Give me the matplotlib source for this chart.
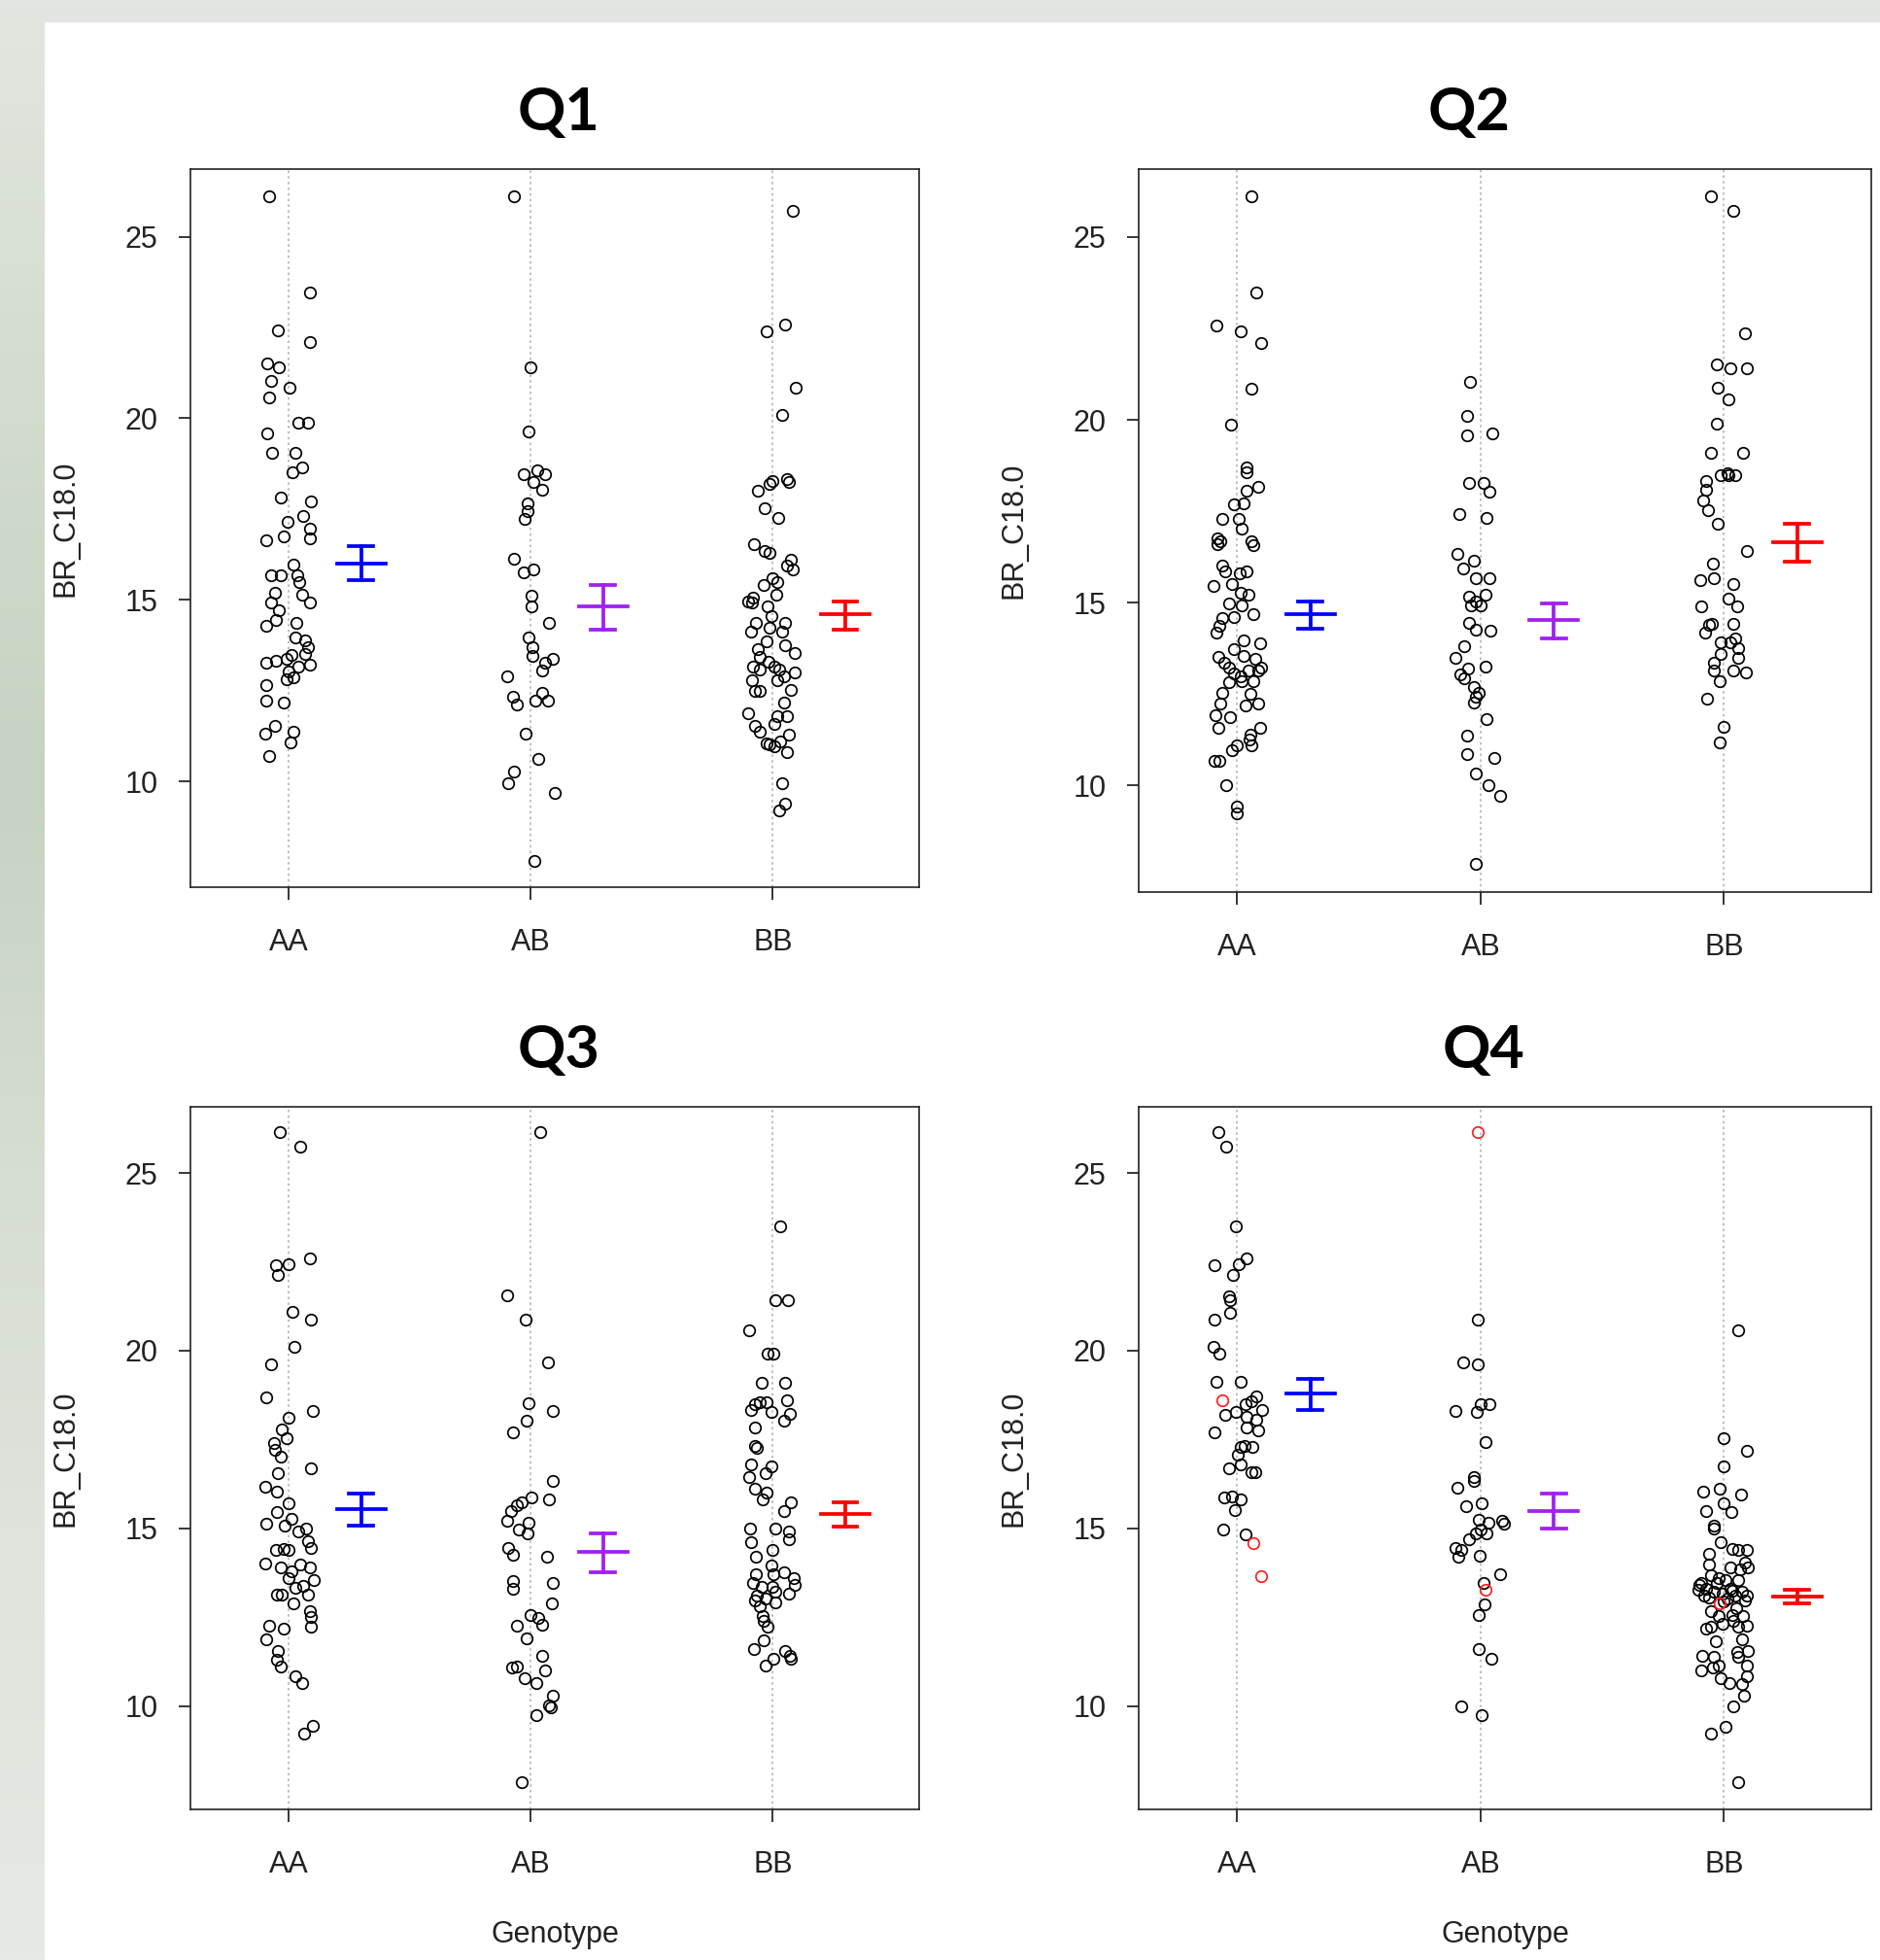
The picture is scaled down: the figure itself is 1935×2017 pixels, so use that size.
import matplotlib
matplotlib.use("Agg")
import matplotlib.pyplot as plt
import numpy as np
from matplotlib.colors import LinearSegmentedColormap

plt.rcParams['font.family'] = ['Liberation Sans', 'DejaVu Sans']

GROUPS = ["AA", "AB", "BB"]
PANELS = ["Q1", "Q2", "Q3", "Q4"]
BAR_COLORS = ["#0000FF", "#A020F0", "#FF0000"]
Y_TICKS = [10, 15, 20, 25]

# ---------------- Q1 ----------------
Q1_AA_Y = [26.11, 23.47, 22.42, 22.11, 21.52, 21.40, 21.03, 20.84, 20.56, 19.89, 19.89, 19.57,
           19.06, 19.06, 18.66, 18.50, 17.83, 17.70, 17.15, 17.31, 16.96, 16.74, 16.69, 16.63,
           15.98, 15.69, 15.69, 15.69, 15.48, 15.20, 15.14, 14.93, 14.93, 14.71, 14.44, 14.28,
           14.38, 13.97, 13.88, 13.70, 13.51, 13.27, 13.33, 13.39, 13.49, 13.21, 13.15, 13.02,
           12.87, 12.81, 12.65, 12.22, 12.18, 11.54, 11.33, 11.38, 11.07, 10.71]
Q1_AA_DX = [-0.08, 0.087, -0.043, 0.087, -0.087, -0.04, -0.073, 0.004, -0.08, 0.04, 0.08, -0.087,
            -0.067, 0.027, 0.057, 0.017, -0.03, 0.093, -0.004, 0.06, 0.087, -0.02, 0.087, -0.09,
            0.02, -0.073, -0.033, 0.037, 0.043, -0.057, 0.057, -0.07, 0.09, -0.04, -0.053, -0.09,
            0.033, 0.027, 0.07, 0.08, 0.067, -0.093, -0.053, -0.007, 0.013, 0.087, 0.04, 0.0,
            0.02, -0.007, -0.093, -0.093, -0.02, -0.056, -0.097, 0.02, 0.01, -0.08]
Q1_AB_Y = [26.11, 21.40, 19.63, 18.46, 18.56, 18.46, 18.25, 18.04, 17.66, 17.43, 17.23, 16.14,
           15.77, 15.83, 15.11, 14.81, 14.38, 13.97, 13.70, 13.45, 13.27, 13.37, 13.05, 12.90,
           12.34, 12.12, 12.22, 12.44, 12.22, 11.32, 10.62, 10.27, 9.94, 9.69, 7.82]
Q1_AB_DX = [-0.067, 0.0, -0.007, -0.027, 0.027, 0.06, 0.013, 0.047, -0.013, -0.013, -0.024, -0.067,
            -0.027, 0.013, 0.003, 0.003, 0.077, -0.007, 0.007, 0.007, 0.06, 0.093, 0.047, -0.096,
            -0.073, -0.057, 0.02, 0.047, 0.073, -0.02, 0.033, -0.067, -0.091, 0.1, 0.016]
Q1_BB_Y = [25.70, 22.57, 22.38, 20.84, 20.08, 18.01, 18.19, 18.28, 18.32, 18.25, 17.52, 17.25,
           16.53, 16.35, 16.28, 16.10, 15.95, 15.83, 15.61, 15.48, 15.42, 15.15, 14.95, 15.05,
           14.93, 14.83, 14.56, 14.38, 14.38, 14.13, 14.22, 14.13, 13.85, 13.76, 13.64, 13.55,
           13.42, 13.29, 13.15, 13.08, 13.15, 13.08, 13.00, 12.80, 12.80, 12.90, 12.49, 12.49,
           12.53, 12.16, 11.88, 11.81, 11.79, 11.54, 11.58, 11.36, 11.30, 11.05, 11.01, 10.97,
           11.11, 10.80, 9.94, 9.39, 9.20]
Q1_BB_DX = [0.084, 0.053, -0.024, 0.097, 0.04, -0.06, -0.013, 0.0, 0.06, 0.067, -0.033, 0.023,
            -0.077, -0.033, -0.013, 0.077, 0.06, 0.084, 0.0, 0.02, -0.037, 0.017, -0.1, -0.08,
            -0.087, -0.02, -0.007, 0.053, -0.069, -0.091, -0.013, 0.04, -0.027, 0.053, -0.06, 0.093,
            -0.053, -0.016, -0.08, -0.053, 0.007, 0.027, 0.091, -0.087, 0.02, 0.047, -0.073, -0.053,
            0.077, 0.047, -0.1, 0.02, 0.06, -0.073, 0.007, -0.053, 0.069, -0.027, -0.013, 0.007,
            0.033, 0.06, 0.04, 0.053, 0.027]

# ---------------- Q2 ----------------
Q2_AA_Y = [26.12, 23.48, 22.57, 22.41, 22.11, 20.86, 19.88, 18.69, 18.56, 18.16, 18.06, 17.71,
           17.69, 17.29, 17.29, 17.02, 16.75, 16.69, 16.60, 16.69, 16.58, 16.02, 15.87, 15.81,
           15.87, 15.46, 15.52, 15.27, 15.21, 14.97, 14.93, 14.62, 14.68, 14.59, 14.37, 14.18,
           13.97, 13.89, 13.72, 13.52, 13.36, 13.24, 13.55, 13.47, 13.24, 13.14, 13.08, 12.99,
           13.14, 12.83, 12.86, 12.86, 12.55, 12.51, 12.24, 12.20, 12.24, 11.92, 11.86, 11.57,
           11.57, 11.40, 11.27, 11.11, 11.11, 10.98, 10.67, 10.67, 10.00, 9.44, 9.25]
Q2_AA_DX = [0.06, 0.077, -0.086, 0.013, 0.097, 0.06, -0.024, 0.037, 0.037, 0.086, 0.04, 0.026,
            -0.013, -0.062, 0.007, 0.02, -0.082, -0.069, -0.082, 0.057, 0.066, -0.062, -0.049, 0.011,
            0.04, -0.099, -0.02, 0.013, 0.046, -0.033, 0.02, -0.013, 0.066, -0.06, -0.073, -0.086,
            0.026, 0.093, -0.013, -0.079, -0.053, -0.033, 0.026, 0.073, 0.099, 0.086, -0.013, 0.013,
            0.046, -0.033, 0.02, 0.066, -0.062, 0.053, -0.069, 0.033, 0.086, -0.089, -0.029, -0.076,
            0.093, 0.053, 0.05, 0.06, 0.0, -0.02, -0.095, -0.073, -0.046, 0.0, 0.0]
Q2_AB_Y = [21.05, 20.11, 19.59, 19.63, 18.29, 18.29, 18.04, 17.44, 17.31, 16.33, 16.15, 15.93,
           15.68, 15.68, 15.21, 15.16, 14.93, 14.93, 15.03, 14.45, 14.27, 14.24, 13.80, 13.49,
           13.20, 13.26, 13.05, 12.93, 12.71, 12.55, 12.42, 12.27, 11.82, 11.38, 10.86, 10.76,
           10.32, 10.00, 9.73, 7.87]
Q2_AB_DX = [-0.042, -0.057, -0.057, 0.049, -0.049, 0.013, 0.037, -0.086, 0.026, -0.095, -0.026, -0.073,
            -0.02, 0.036, 0.02, -0.046, -0.04, 0.0, -0.02, -0.046, -0.02, 0.042, -0.066, -0.102,
            -0.053, 0.02, -0.082, -0.069, -0.026, -0.009, -0.02, -0.029, 0.026, -0.057, -0.057, 0.057,
            -0.02, 0.033, 0.079, -0.02]
Q2_BB_Y = [26.12, 25.71, 22.36, 21.53, 21.42, 21.42, 20.88, 20.57, 19.91, 19.10, 19.10, 18.48,
           18.54, 18.48, 18.48, 18.34, 18.09, 17.81, 17.52, 17.16, 16.41, 16.08, 15.68, 15.62,
           15.52, 15.12, 14.91, 14.91, 14.39, 14.43, 14.18, 14.43, 14.02, 13.93, 13.93, 13.77,
           13.59, 13.36, 13.49, 13.15, 13.15, 13.09, 12.86, 12.39, 11.61, 11.17]
Q2_BB_DX = [-0.053, 0.04, 0.086, -0.029, 0.026, 0.093, -0.024, 0.02, -0.029, -0.053, 0.077, -0.013,
            0.013, 0.02, 0.046, -0.073, -0.073, -0.086, -0.066, -0.024, 0.093, -0.046, -0.042, -0.099,
            0.04, 0.02, 0.053, -0.093, -0.06, -0.05, -0.079, 0.037, 0.046, -0.013, 0.026, 0.06,
            -0.013, -0.04, 0.06, -0.04, 0.037, 0.09, -0.017, -0.069, 0.0, -0.016]

# ---------------- Q3 ----------------
Q3_AA_Y = [26.15, 25.73, 22.59, 22.40, 22.44, 22.13, 21.08, 20.87, 20.11, 19.61, 18.69, 18.29,
           18.10, 17.79, 17.54, 17.41, 17.21, 17.02, 16.55, 16.68, 16.18, 16.03, 15.71, 15.45,
           15.27, 15.13, 15.08, 14.92, 14.98, 14.63, 14.44, 14.38, 14.42, 14.38, 14.00, 13.91,
           13.98, 13.89, 13.79, 13.60, 13.54, 13.37, 13.32, 13.13, 13.12, 13.13, 12.88, 12.66,
           12.50, 12.22, 12.25, 12.18, 11.88, 11.55, 11.30, 11.12, 10.83, 10.64, 9.45, 9.22]
Q3_AA_DX = [-0.036, 0.049, 0.087, -0.053, 0.0, -0.044, 0.017, 0.093, 0.024, -0.073, -0.091, 0.1,
            0.0, -0.029, -0.007, -0.06, -0.056, -0.033, -0.044, 0.093, -0.096, -0.049, 0.0, -0.049,
            0.013, -0.091, -0.016, 0.04, 0.073, 0.08, 0.093, -0.053, -0.02, 0.0, -0.096, -0.033,
            0.047, 0.087, 0.013, 0.0, 0.104, 0.06, 0.027, -0.047, -0.027, 0.08, 0.02, 0.087,
            0.093, 0.093, -0.08, -0.02, -0.093, -0.043, -0.047, -0.033, 0.027, 0.057, 0.1, 0.063]
Q3_AB_Y = [26.15, 21.55, 20.87, 19.67, 18.53, 18.29, 18.04, 17.69, 16.33, 15.80, 15.86, 15.74,
           15.64, 15.49, 15.21, 15.15, 14.96, 14.86, 14.44, 14.25, 14.19, 13.51, 13.29, 13.47,
           12.88, 12.57, 12.47, 12.28, 12.25, 11.90, 11.40, 11.08, 11.11, 10.99, 10.77, 10.64,
           10.29, 10.02, 9.95, 9.74, 7.85]
Q3_AB_DX = [0.04, -0.097, -0.02, 0.071, -0.007, 0.093, -0.017, -0.073, 0.093, 0.077, 0.004, -0.036,
            -0.057, -0.08, -0.097, -0.007, -0.047, -0.013, -0.093, -0.073, 0.069, -0.073, -0.073, 0.093,
            0.087, 0.0, 0.033, 0.047, -0.057, -0.017, 0.047, -0.076, -0.057, 0.06, -0.023, 0.023,
            0.093, 0.077, 0.084, 0.023, -0.036]
Q3_BB_Y = [23.50, 21.43, 21.43, 20.58, 19.92, 19.92, 19.09, 19.09, 18.60, 18.34, 18.50, 18.54,
           18.54, 18.27, 18.21, 18.02, 17.85, 17.31, 17.25, 16.81, 16.74, 16.55, 16.43, 16.11,
           16.01, 15.82, 15.74, 15.49, 14.98, 14.98, 14.92, 14.69, 14.60, 14.38, 14.19, 13.95,
           13.72, 13.72, 13.75, 13.60, 13.41, 13.47, 13.35, 13.35, 13.22, 13.16, 13.10, 13.03,
           12.97, 12.91, 12.81, 12.53, 12.40, 12.22, 11.84, 11.61, 11.56, 11.40, 11.34, 11.34,
           11.15]
Q3_BB_DX = [0.031, 0.013, 0.063, -0.097, -0.02, 0.004, -0.047, 0.053, 0.06, -0.091, -0.073, -0.053,
            -0.027, -0.007, 0.071, 0.047, -0.073, -0.073, -0.067, -0.091, -0.004, -0.031, -0.096, -0.073,
            -0.027, -0.04, 0.077, 0.047, -0.093, 0.011, 0.067, 0.067, -0.091, 0.0, -0.069, -0.007,
            -0.069, 0.004, 0.047, 0.087, 0.093, -0.08, -0.047, 0.0, 0.013, 0.067, -0.067, -0.029,
            -0.073, 0.013, -0.053, -0.04, -0.037, -0.02, -0.036, -0.077, 0.053, 0.073, 0.076, 0.003,
            -0.029]

# ---------------- Q4 ----------------
Q4_AA_Y = [26.15, 25.73, 23.51, 22.59, 22.44, 22.40, 22.13, 21.52, 21.43, 21.06, 20.87, 20.11,
           19.91, 19.11, 19.11, 18.72, 18.57, 18.50, 18.34, 18.19, 18.28, 18.13, 18.06, 17.84,
           17.75, 17.69, 17.28, 17.33, 17.28, 17.06, 16.81, 16.68, 16.58, 16.58, 15.86, 15.90,
           15.82, 15.51, 14.96, 14.83]
Q4_AA_DX = [-0.076, -0.047, -0.007, 0.04, 0.007, -0.093, -0.016, -0.033, -0.029, -0.031, -0.093, -0.096,
            -0.073, -0.084, 0.013, 0.077, 0.06, 0.033, 0.1, -0.049, -0.007, 0.037, 0.08, 0.04,
            0.087, -0.093, 0.013, 0.031, 0.064, 0.004, 0.013, -0.033, 0.06, 0.076, -0.053, -0.02,
            0.013, -0.009, -0.056, 0.033]
Q4_AA_RED_Y = [18.59, 14.58, 13.66]
Q4_AA_RED_DX = [-0.062, 0.067, 0.097]
Q4_AB_Y = [20.87, 19.66, 19.61, 18.50, 18.50, 18.29, 18.28, 17.43, 16.43, 16.34, 16.15, 15.61,
           15.71, 15.23, 15.15, 15.20, 15.13, 14.96, 14.86, 14.86, 14.69, 14.44, 14.38, 14.19,
           14.23, 13.72, 13.47, 12.87, 12.57, 11.61, 11.34, 9.99, 9.74]
Q4_AB_DX = [-0.013, -0.073, -0.013, 0.0, 0.037, -0.103, -0.017, 0.02, -0.027, -0.027, -0.096, -0.06,
            0.004, -0.007, 0.031, 0.087, 0.096, 0.0, -0.02, 0.023, -0.047, -0.104, -0.08, -0.091,
            -0.004, 0.08, 0.011, 0.017, -0.007, -0.007, 0.043, -0.08, 0.004]
Q4_AB_RED_Y = [26.15, 13.28]
Q4_AB_RED_DX = [-0.013, 0.02]
Q4_BB_Y = [20.58, 17.54, 17.18, 16.74, 16.03, 16.11, 15.95, 15.71, 15.45, 15.49, 15.08, 14.98,
           14.60, 14.42, 14.38, 14.38, 14.29, 13.98, 13.91, 13.91, 14.04, 13.69, 13.60, 13.47,
           13.54, 13.54, 13.28, 13.31, 13.22, 13.16, 13.31, 13.22, 13.10, 13.10, 13.03, 13.10,
           12.97, 12.66, 12.57, 12.53, 12.53, 12.40, 12.24, 12.25, 12.18, 12.22, 11.88, 11.81,
           11.52, 11.55, 11.42, 11.37, 11.37, 11.15, 11.15, 10.99, 11.08, 10.77, 10.83, 10.64,
           10.62, 10.29, 9.99, 9.42, 9.22, 7.85,
           13.40, 13.05, 12.95, 13.25, 13.45, 12.75, 13.85, 12.30]
Q4_BB_DX = [0.06, 0.0, 0.093, 0.0, -0.087, -0.016, 0.071, -0.003, 0.031, -0.073, -0.043, -0.043,
            -0.013, 0.033, 0.06, 0.093, -0.062, -0.062, 0.027, 0.1, 0.087, -0.053, -0.02, -0.093,
            0.007, 0.057, -0.107, -0.073, -0.04, -0.007, 0.027, 0.073, 0.093, -0.083, 0.013, 0.047,
            0.087, -0.053, 0.033, 0.077, -0.02, 0.04, 0.06, 0.093, -0.073, -0.053, 0.073, -0.033,
            0.053, 0.097, -0.091, -0.04, 0.06, -0.02, 0.093, -0.093, -0.047, -0.013, 0.093, 0.024,
            0.073, 0.084, 0.04, 0.007, -0.053, 0.06,
            -0.1, -0.06, 0.0, 0.035, -0.03, 0.05, 0.065, -0.005]
Q4_BB_RED_Y = [12.88]
Q4_BB_RED_DX = [-0.016]

# Means and SE bounds (mean, lower, upper) per panel, per genotype
Q1_MEAN = [16.01, 14.81, 14.62]; Q1_LO = [15.55, 14.17, 14.17]; Q1_HI = [16.47, 15.40, 14.95]
Q2_MEAN = [14.68, 14.53, 16.66]; Q2_LO = [14.30, 14.02, 16.12]; Q2_HI = [15.03, 14.99, 17.15]
Q3_MEAN = [15.55, 14.33, 15.40]; Q3_LO = [15.08, 13.75, 15.05]; Q3_HI = [15.99, 14.86, 15.74]
Q4_MEAN = [18.78, 15.48, 13.07]; Q4_LO = [18.34, 14.98, 12.88]; Q4_HI = [19.20, 15.99, 13.28]

PANEL_DATA = {
    "Q1": ([Q1_AA_Y, Q1_AB_Y, Q1_BB_Y], [Q1_AA_DX, Q1_AB_DX, Q1_BB_DX],
           [[], [], []], [[], [], []], Q1_MEAN, Q1_LO, Q1_HI),
    "Q2": ([Q2_AA_Y, Q2_AB_Y, Q2_BB_Y], [Q2_AA_DX, Q2_AB_DX, Q2_BB_DX],
           [[], [], []], [[], [], []], Q2_MEAN, Q2_LO, Q2_HI),
    "Q3": ([Q3_AA_Y, Q3_AB_Y, Q3_BB_Y], [Q3_AA_DX, Q3_AB_DX, Q3_BB_DX],
           [[], [], []], [[], [], []], Q3_MEAN, Q3_LO, Q3_HI),
    "Q4": ([Q4_AA_Y, Q4_AB_Y, Q4_BB_Y], [Q4_AA_DX, Q4_AB_DX, Q4_BB_DX],
           [Q4_AA_RED_Y, Q4_AB_RED_Y, Q4_BB_RED_Y], [Q4_AA_RED_DX, Q4_AB_RED_DX, Q4_BB_RED_DX],
           Q4_MEAN, Q4_LO, Q4_HI),
}

W, H = 1935, 2017
fig = plt.figure(figsize=(W / 100, H / 100), dpi=100)
fig.patch.set_facecolor("#dfe3dc")

# blurred slide background (soft greenish gradient behind the white slide area)
bg_ax = fig.add_axes([0, 0, 1, 1], zorder=-10)
bg_ax.axis("off")
bg_cmap = LinearSegmentedColormap.from_list(
    "bg", ["#e2e6e0", "#d3dccd", "#c7d3c2", "#d6ddd2", "#dfe4dc", "#e6e9e4"])
grad = np.linspace(0, 1, 256).reshape(-1, 1)
bg_ax.imshow(grad, aspect="auto", cmap=bg_cmap, extent=[0, 1, 0, 1], origin="upper")
bg_ax.set_xlim(0, 1)
bg_ax.set_ylim(0, 1)
bg_ax.add_patch(plt.Rectangle((46 / W, 0), 1 - 46 / W, 1 - 23 / H,
                              facecolor="white", edgecolor="none"))

def px_rect(x0, y0, x1, y1):
    return [x0 / W, 1 - y1 / H, (x1 - x0) / W, (y1 - y0) / H]

AX_RECTS = {
    "Q1": px_rect(196, 174, 946, 913),
    "Q2": px_rect(1172, 174, 1926, 918),
    "Q3": px_rect(196, 1139, 946, 1862),
    "Q4": px_rect(1172, 1139, 1926, 1862),
}
TITLE_POS = {"Q1": (575, 116), "Q2": (1512, 116), "Q3": (575, 1081), "Q4": (1527, 1081)}

for name in PANELS:
    ys, dxs, rys, rdxs, means, los, his = PANEL_DATA[name]
    ax = fig.add_axes(AX_RECTS[name])
    ax.set_facecolor("white")
    ax.set_xlim(0.595, 3.605)
    ax.set_ylim(7.09, 26.86)
    for i, g in enumerate(GROUPS):
        xpos = i + 1
        ax.axvline(xpos, color="#b4b4b4", lw=1.2, ls=(0, (1.5, 2)), zorder=1)
        ax.plot(xpos + np.array(dxs[i]), ys[i], ls="none", marker="o", ms=8.3,
                mfc="none", mec="black", mew=1.25, zorder=3)
        if len(rys[i]):
            ax.plot(xpos + np.array(rdxs[i]), rys[i], ls="none", marker="o", ms=8.3,
                    mfc="none", mec="#ff2020", mew=1.25, zorder=4)
        c = BAR_COLORS[i]
        xb = xpos + 0.30
        lw = 2.7
        ax.plot([xb, xb], [los[i], his[i]], color=c, lw=lw, zorder=5)
        ax.plot([xb - 0.05, xb + 0.05], [los[i], los[i]], color=c, lw=lw, zorder=5)
        ax.plot([xb - 0.05, xb + 0.05], [his[i], his[i]], color=c, lw=lw, zorder=5)
        ax.plot([xb - 0.10, xb + 0.10], [means[i], means[i]], color=c, lw=lw, zorder=5)
    ax.set_xticks([1, 2, 3])
    ax.set_xticklabels(GROUPS)
    ax.set_yticks(Y_TICKS)
    ax.set_yticklabels([str(t) for t in Y_TICKS])
    ax.tick_params(axis="both", labelsize=22, length=9, width=1.1, direction="out",
                   colors="black", labelcolor="#222222")
    ax.tick_params(axis="y", pad=15)
    ax.tick_params(axis="x", pad=21)
    for sp in ax.spines.values():
        sp.set_linewidth(1.2)
        sp.set_color("#222222")
    ax.set_ylabel("BR_C18.0", fontsize=22, color="#222222")
    ax.yaxis.set_label_coords(-0.151, 0.5)
    if name in ("Q3", "Q4"):
        ax.set_xlabel("Genotype", fontsize=22, color="#222222")
        ax.xaxis.set_label_coords(0.5, -0.158)
    tx, ty = TITLE_POS[name]
    fig.text(tx / W, 1 - ty / H, name, fontsize=44, fontweight="bold",
             family=["Lato", "DejaVu Sans"], ha="center", va="center", color="black")

fig.savefig("out.png", dpi=100, facecolor=fig.get_facecolor())
